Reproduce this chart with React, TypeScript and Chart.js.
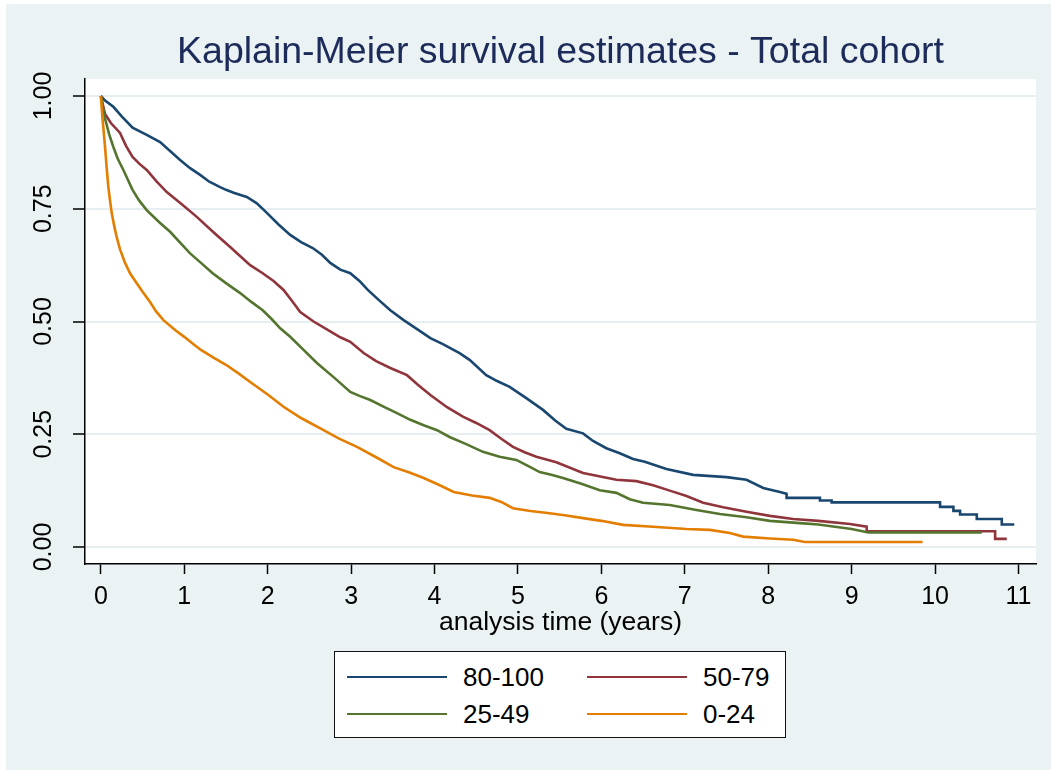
import React, { useEffect, useRef } from 'react';
import { Chart, registerables } from 'chart.js';

Chart.register(...registerables);

const chartTitle = 'Kaplain-Meier survival estimates - Total cohort';
const xAxisTitle = 'analysis time (years)';

const seriesLabels = ['80-100', '50-79', '25-49', '0-24'];
const seriesColors = ['#1a476f', '#90353b', '#55752f', '#e37e00'];

// 80-100
const time80 = [0, 0.05, 0.15, 0.25, 0.38, 0.55, 0.71, 0.95, 1.07, 1.19, 1.3, 1.43, 1.5, 1.6, 1.75, 1.87, 1.99, 2.13, 2.27, 2.4, 2.54, 2.65, 2.75, 2.87, 2.99, 3.1, 3.2, 3.33, 3.47, 3.63, 3.8, 3.95, 4.1, 4.2, 4.3, 4.42, 4.62, 4.75, 4.9, 5.1, 5.3, 5.45, 5.58, 5.78, 5.9, 6.06, 6.22, 6.38, 6.52, 6.78, 7.1, 7.5, 7.74, 7.94, 8.14, 8.22, 8.22, 8.62, 8.62, 8.76, 8.76, 10.06, 10.06, 10.22, 10.22, 10.3, 10.3, 10.5, 10.5, 10.8, 10.8, 10.95];
const surv80 = [1, 0.99, 0.976, 0.955, 0.93, 0.914, 0.898, 0.858, 0.84, 0.825, 0.81, 0.798, 0.792, 0.785, 0.776, 0.762, 0.741, 0.715, 0.692, 0.676, 0.663, 0.648, 0.63, 0.615, 0.607, 0.59, 0.57, 0.548, 0.525, 0.503, 0.482, 0.463, 0.45, 0.44, 0.43, 0.415, 0.381, 0.368, 0.355, 0.33, 0.304, 0.28, 0.262, 0.252, 0.235, 0.219, 0.208, 0.195, 0.189, 0.173, 0.16, 0.155, 0.149, 0.131, 0.122, 0.118, 0.109, 0.109, 0.103, 0.103, 0.099, 0.099, 0.089, 0.089, 0.08, 0.08, 0.072, 0.072, 0.062, 0.062, 0.05, 0.05];

// 50-79
const time50 = [0, 0.05, 0.12, 0.23, 0.3, 0.38, 0.46, 0.55, 0.67, 0.79, 0.97, 1.15, 1.35, 1.55, 1.79, 1.94, 2.07, 2.19, 2.29, 2.39, 2.55, 2.75, 2.87, 2.99, 3.15, 3.3, 3.47, 3.67, 3.8, 3.95, 4.15, 4.34, 4.5, 4.66, 4.8, 4.94, 5.08, 5.22, 5.46, 5.78, 6.18, 6.42, 6.62, 6.82, 7.02, 7.22, 7.46, 7.74, 8.02, 8.3, 8.6, 8.98, 9.18, 9.18, 10.72, 10.72, 10.86];
const surv50 = [1, 0.96, 0.94, 0.918, 0.89, 0.865, 0.85, 0.836, 0.81, 0.787, 0.76, 0.732, 0.698, 0.665, 0.625, 0.607, 0.59, 0.57, 0.546, 0.521, 0.5, 0.478, 0.465, 0.455, 0.43, 0.412, 0.397, 0.381, 0.36, 0.337, 0.31, 0.289, 0.275, 0.259, 0.24, 0.222, 0.21, 0.2, 0.188, 0.164, 0.149, 0.146, 0.137, 0.125, 0.113, 0.098, 0.088, 0.078, 0.069, 0.062, 0.058, 0.051, 0.045, 0.035, 0.035, 0.018, 0.018];

// 25-49
const time25 = [0, 0.05, 0.1, 0.15, 0.2, 0.27, 0.38, 0.46, 0.55, 0.7, 0.83, 0.95, 1.07, 1.2, 1.34, 1.5, 1.67, 1.8, 1.94, 2.05, 2.15, 2.27, 2.43, 2.59, 2.8, 2.99, 3.1, 3.23, 3.4, 3.55, 3.71, 3.87, 4.03, 4.18, 4.38, 4.58, 4.78, 4.98, 5.12, 5.26, 5.4, 5.54, 5.76, 5.98, 6.18, 6.34, 6.5, 6.82, 7.14, 7.42, 7.74, 8.02, 8.38, 8.6, 9.0, 9.2, 10.56];
const surv25 = [1, 0.95, 0.915, 0.887, 0.862, 0.836, 0.792, 0.768, 0.747, 0.72, 0.699, 0.675, 0.651, 0.63, 0.607, 0.585, 0.563, 0.544, 0.525, 0.505, 0.485, 0.466, 0.437, 0.408, 0.375, 0.344, 0.335, 0.326, 0.31, 0.297, 0.282, 0.27, 0.259, 0.244, 0.228, 0.211, 0.2, 0.193, 0.18, 0.166, 0.16, 0.153, 0.14, 0.126, 0.12, 0.106, 0.098, 0.093, 0.082, 0.073, 0.066, 0.058, 0.053, 0.05, 0.04, 0.032, 0.032];

// 0-24
const time0 = [0, 0.02, 0.03, 0.05, 0.07, 0.09, 0.11, 0.13, 0.16, 0.19, 0.23, 0.29, 0.35, 0.43, 0.5, 0.59, 0.66, 0.75, 0.89, 1.0, 1.1, 1.2, 1.35, 1.5, 1.65, 1.79, 2.0, 2.19, 2.4, 2.67, 2.85, 3.07, 3.3, 3.51, 3.7, 3.87, 4.05, 4.23, 4.45, 4.66, 4.8, 4.94, 5.15, 5.38, 5.58, 5.78, 6.0, 6.26, 6.62, 7.02, 7.3, 7.54, 7.7, 8.02, 8.3, 8.44, 9.85];
const surv0 = [1, 0.95, 0.93, 0.887, 0.84, 0.798, 0.768, 0.741, 0.712, 0.687, 0.66, 0.63, 0.607, 0.585, 0.566, 0.543, 0.523, 0.503, 0.481, 0.466, 0.451, 0.437, 0.42, 0.404, 0.385, 0.366, 0.338, 0.311, 0.286, 0.259, 0.241, 0.222, 0.199, 0.177, 0.165, 0.153, 0.138, 0.122, 0.114, 0.109, 0.1, 0.086, 0.08, 0.075, 0.07, 0.064, 0.058, 0.049, 0.045, 0.04, 0.038, 0.031, 0.023, 0.019, 0.016, 0.011, 0.011];

const seriesTimes = [time80, time50, time25, time0];
const seriesSurv = [surv80, surv50, surv25, surv0];

const xTickValues = [0, 1, 2, 3, 4, 5, 6, 7, 8, 9, 10, 11];
const yTickValues = [0, 0.25, 0.5, 0.75, 1];

const BG = '#eaf2f3';
const FONT = "'Liberation Sans', Arial, Helvetica, sans-serif";

const bgPlugin = {
  id: 'stataBg',
  beforeDraw(chart: any) {
    const { ctx, chartArea } = chart;
    ctx.save();
    ctx.fillStyle = '#ffffff';
    ctx.fillRect(0, 0, chart.width, chart.height);
    ctx.fillStyle = BG;
    ctx.fillRect(6, 4, chart.width - 6, chart.height - 5);
    ctx.fillStyle = '#ffffff';
    ctx.fillRect(chartArea.left, chartArea.top, chartArea.right - chartArea.left, chartArea.bottom - chartArea.top);
    ctx.restore();
  },
};

export default function App() {
  const canvasRef = useRef<HTMLCanvasElement | null>(null);

  useEffect(() => {
    if (!canvasRef.current) return;
    const datasets = seriesLabels.map((label, i) => ({
      label,
      data: seriesTimes[i].map((t, j) => ({ x: t, y: seriesSurv[i][j] })),
      borderColor: seriesColors[i],
      backgroundColor: seriesColors[i],
      borderWidth: 2.6,
      pointRadius: 0,
      tension: 0,
      fill: false,
      order: seriesLabels.length - 1 - i,
    }));

    const chart = new Chart(canvasRef.current, {
      type: 'line',
      data: { datasets },
      plugins: [bgPlugin],
      options: {
        animation: false,
        responsive: false,
        devicePixelRatio: 1,
        layout: { padding: { left: 6, right: 15, top: 0, bottom: 127 } },
        plugins: {
          legend: { display: false },
          tooltip: { enabled: false },
          title: {
            display: true,
            text: chartTitle,
            fullSize: false,
            color: '#1c2b5a',
            font: { family: FONT, size: 37.5, weight: 'normal', lineHeight: 1.2 },
            padding: { top: 30, bottom: 4 },
          },
        },
        scales: {
          x: {
            type: 'linear',
            min: -0.19,
            max: 11.21,
            afterBuildTicks: (scale: any) => {
              scale.ticks = xTickValues.map((v) => ({ value: v }));
            },
            afterFit: (scale: any) => {
              scale.height = 80;
            },
            ticks: {
              autoSkip: false,
              maxRotation: 0,
              minRotation: 0,
              padding: 8,
              color: '#000',
              font: { family: FONT, size: 25 },
              callback: (v: any) => String(v),
            },
            grid: {
              drawOnChartArea: false,
              color: 'rgba(0,0,0,0)',
              tickColor: '#000',
              tickLength: 10,
              tickWidth: 1.5,
            },
            border: { display: true, color: '#000', width: 1.5 },
            title: {
              display: true,
              text: xAxisTitle,
              color: '#000',
              font: { family: FONT, size: 26.5 },
              padding: { top: 0, bottom: 5 },
            },
          },
          y: {
            type: 'linear',
            min: -0.0377,
            max: 1.0377,
            afterBuildTicks: (scale: any) => {
              scale.ticks = yTickValues.map((v) => ({ value: v }));
            },
            afterFit: (scale: any) => {
              scale.width = 79;
            },
            ticks: {
              autoSkip: false,
              minRotation: 90,
              maxRotation: 90,
              crossAlign: 'center',
              padding: 4.5,
              color: '#000',
              font: { family: FONT, size: 25 },
              callback: (v: any) => Number(v).toFixed(2),
            },
            grid: {
              drawOnChartArea: true,
              color: '#e6eef1',
              lineWidth: 2,
              tickColor: '#000',
              tickLength: 12,
              tickWidth: 1.5,
            },
            border: { display: true, color: '#000', width: 1.5 },
          },
        },
      },
    } as any);
    return () => chart.destroy();
  }, []);

  const legendCols = [12, 252];
  const legendRows = [25, 62];

  return (
    <div style={{ position: 'absolute', left: 0, top: 0, width: 1051, height: 771 }}>
      <canvas ref={canvasRef} width={1051} height={771} style={{ width: 1051, height: 771, display: 'block' }} />
      <div
        style={{
          position: 'absolute',
          left: 334,
          top: 651,
          width: 452,
          height: 87,
          boxSizing: 'border-box',
          border: '1.5px solid #111',
          background: '#fff',
          fontFamily: FONT,
        }}
      >
        {seriesLabels.map((label, i) => {
          const col = legendCols[i % 2];
          const row = legendRows[Math.floor(i / 2)];
          return (
            <React.Fragment key={label}>
              <div
                style={{
                  position: 'absolute',
                  left: col,
                  top: row - 1.25,
                  width: 100,
                  height: 2.5,
                  background: seriesColors[i],
                }}
              />
              <div
                style={{
                  position: 'absolute',
                  left: col + 116,
                  top: row - 15,
                  height: 30,
                  lineHeight: '30px',
                  fontSize: 26,
                  color: '#000',
                  whiteSpace: 'nowrap',
                }}
              >
                {label}
              </div>
            </React.Fragment>
          );
        })}
      </div>
    </div>
  );
}
